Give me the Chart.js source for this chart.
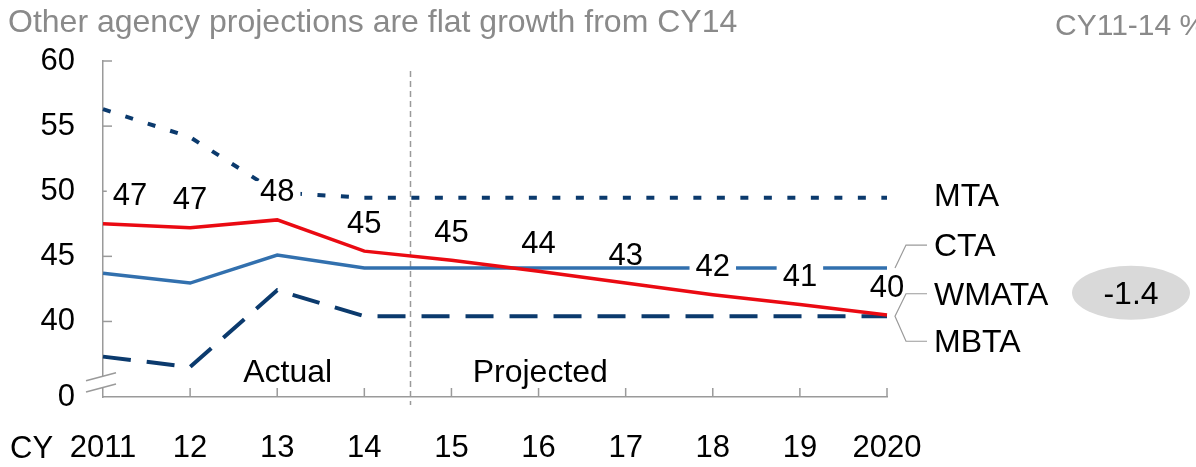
<!DOCTYPE html>
<html><head><meta charset="utf-8">
<script src="https://cdn.jsdelivr.net/npm/chart.js@4/dist/chart.umd.min.js"></script>
<style>html,body{margin:0;padding:0;background:#fff;}#wrap{width:1196px;height:467px;position:relative;}</style>
</head><body><div id="wrap"><canvas id="c" width="1196" height="467"></canvas></div>
<script>
// ---- data ----
const years = ['2011','12','13','14','15','16','17','18','19','2020'];
const mta   = [56.3, 54.15, 49.9, 49.5, 49.5, 49.5, 49.5, 49.5, 49.5, 49.5];
const cta   = [43.7, 42.95, 45.1, 44.1, 44.1, 44.1, 44.1, 44.1, 44.1, 44.1];
const wmata = [47.5, 47.2, 47.8, 45.4, 44.7, 43.85, 42.95, 42.05, 41.3, 40.5];
const mbta  = [37.3, 36.5, 42.4, 40.4, 40.4, 40.4, 40.4, 40.4, 40.4, 40.4];
const wmataLabels = ['47','47','48','45','45','44','43','42','41','40'];
const yTicks = [34.2, 40, 45, 50, 55, 60];
const yTickLabels = ['0','40','45','50','55','60'];
const seriesNames = ['MTA','CTA','WMATA','MBTA'];
const titleText = 'Other agency projections are flat growth from CY14';
const changeHeader = 'CY11-14 %';
const wmataChange = '-1.4';
const periodLabels = ['Actual','Projected'];
const periodPositions = [2.12, 5.02];
const dividerPosition = 3.53;
const axisPrefix = 'CY';

const FONT = '"Liberation Sans", Arial, sans-serif';
const NUM = '31px ' + FONT, TXT = '32px ' + FONT;
const NAVY = '#0b3a6d', BLUE = '#3270ae', RED = '#ea0a12', GRAY = '#9a9a9a';

function interp(s, v){ const i=Math.floor(v), f=v-i; const a=s.getPixelForValue(i), b=s.getPixelForValue(Math.min(i+1, years.length-1)); return a+f*(b-a); }

const annot = {
  id:'annot',
  beforeDatasetsDraw(chart){
    const {ctx, scales:{x,y}, chartArea:ca} = chart;
    const xd = interp(x, dividerPosition);
    ctx.save();
    ctx.strokeStyle=GRAY; ctx.lineWidth=1.5; ctx.setLineDash([6,4]);
    ctx.beginPath(); ctx.moveTo(xd, ca.top+10); ctx.lineTo(xd, ca.bottom+8); ctx.stroke();
    ctx.setLineDash([]);
    // inward ticks
    ctx.strokeStyle=GRAY; ctx.lineWidth=1.5;
    yTicks.slice(1).forEach(v=>{ const py=y.getPixelForValue(v); ctx.beginPath(); ctx.moveTo(ca.left, py); ctx.lineTo(ca.left+9, py); ctx.stroke(); });
    for(let i=1;i<years.length;i++){ const px=x.getPixelForValue(i); ctx.beginPath(); ctx.moveTo(px, ca.bottom); ctx.lineTo(px, ca.bottom-9); ctx.stroke(); }
    // axis break
    const L=ca.left, B=ca.bottom;
    ctx.fillStyle='#fff';
    ctx.beginPath(); ctx.moveTo(L-17,B-16.3); ctx.lineTo(L+13,B-24.3); ctx.lineTo(L+13,B-13); ctx.lineTo(L-17,B-5); ctx.closePath(); ctx.fill();
    ctx.strokeStyle=GRAY; ctx.lineWidth=1.5;
    ctx.beginPath(); ctx.moveTo(L-17,B-16.3); ctx.lineTo(L+13,B-24.3); ctx.stroke();
    ctx.beginPath(); ctx.moveTo(L-17,B-5); ctx.lineTo(L+13,B-13); ctx.stroke();
    ctx.restore();
  },
  afterDatasetsDraw(chart){
    const {ctx, scales:{x,y}, chartArea:ca} = chart;
    ctx.save();
    // data labels on WMATA
    ctx.font = NUM;
    ctx.textAlign='center'; ctx.textBaseline='middle';
    wmataLabels.forEach((t,i)=>{
      const px = x.getPixelForValue(i) + (i===0?27:0);
      const py = y.getPixelForValue(wmata[i]) - 28;
      const w = ctx.measureText(t).width + 12;
      ctx.fillStyle='#fff'; ctx.fillRect(px-w/2, py-10.8, w, 21.6);
      ctx.fillStyle='#000'; ctx.fillText(t, px, py+1);
    });
    // period labels
    ctx.font = TXT;
    periodLabels.forEach((t,i)=>{ ctx.fillText(t, interp(x, periodPositions[i]), ca.bottom-24); });
    // series labels with connectors
    const xe = x.getPixelForValue(years.length-1);
    const last = a => y.getPixelForValue(a[a.length-1]);
    const yM=last(mta), yC=last(cta), yB=last(mbta);
    const tx = xe+47;
    ctx.strokeStyle=GRAY; ctx.lineWidth=1.2;
    ctx.beginPath(); ctx.moveTo(xe+8,yC); ctx.lineTo(xe+19,yC-23); ctx.lineTo(xe+40,yC-23); ctx.stroke();
    ctx.beginPath(); ctx.moveTo(xe+40,yB-22.5); ctx.lineTo(xe+19,yB-22.5); ctx.lineTo(xe+8,yB); ctx.lineTo(xe+19,yB+25); ctx.lineTo(xe+40,yB+25); ctx.stroke();
    ctx.textAlign='left'; ctx.fillStyle='#000';
    ctx.fillText(seriesNames[0], tx, yM-1);
    ctx.fillText(seriesNames[1], tx, yC-21);
    ctx.fillText(seriesNames[2], tx, yB-20.5);
    ctx.fillText(seriesNames[3], tx, yB+27);
    // ellipse
    ctx.fillStyle='#d9d9d9';
    ctx.beginPath(); ctx.ellipse(1131, yB-23.5, 59, 27, 0, 0, Math.PI*2); ctx.fill();
    ctx.fillStyle='#000'; ctx.textAlign='center';
    ctx.fillText(wmataChange, 1131, yB-21.5);
    // title & header
    ctx.textAlign='left'; ctx.textBaseline='alphabetic';
    ctx.fillStyle='#8a8a8a';
    ctx.fillText(titleText, 8, 32);
    ctx.font = '30px ' + FONT;
    ctx.fillText(changeHeader, 1055, 35);
    ctx.fillStyle='#000';
    ctx.font = NUM;
    ctx.fillText(axisPrefix, 10, 458);
    ctx.restore();
  }
};

new Chart(document.getElementById('c'), {
  type:'line',
  data:{
    labels: years,
    datasets:[
      {label:seriesNames[2], data:wmata, borderColor:RED, borderWidth:3.5, order:0},
      {label:seriesNames[1], data:cta, borderColor:BLUE, borderWidth:3.5, order:1},
      {label:seriesNames[0], data:mta, borderColor:NAVY, borderWidth:4, borderDash:[8,15.5], order:2},
      {label:seriesNames[3], data:mbta, borderColor:NAVY, borderWidth:4, borderDash:[28,16], order:3}
    ]
  },
  options:{
    responsive:false, animation:false, devicePixelRatio:1,
    layout:{padding:{top:61, right:309, left:0, bottom:0}},
    elements:{point:{radius:0, hoverRadius:0}, line:{tension:0, borderCapStyle:'butt'}},
    datasets:{line:{clip:8}},
    plugins:{legend:{display:false}, tooltip:{enabled:false}, title:{display:false}},
    events:[],
    scales:{
      x:{
        type:'category', offset:false,
        grid:{display:false, drawTicks:false},
        border:{display:true, color:GRAY, width:1.5},
        ticks:{font:{family:FONT, size:31}, color:'#000', padding:33, maxRotation:0, autoSkip:false},
        afterFit:s=>{ s.height = 70; }
      },
      y:{
        type:'linear', min:yTicks[0], max:yTicks[yTicks.length-1],
        afterBuildTicks:s=>{ s.ticks = yTicks.map(v=>({value:v})); },
        grid:{display:false, drawTicks:false},
        border:{display:true, color:GRAY, width:1.5},
        ticks:{font:{family:FONT, size:31}, color:'#000', padding:28, callback:(v,i)=>yTickLabels[i]},
        afterFit:s=>{ s.width = 103; }
      }
    }
  },
  plugins:[annot]
});
</script></body></html>
